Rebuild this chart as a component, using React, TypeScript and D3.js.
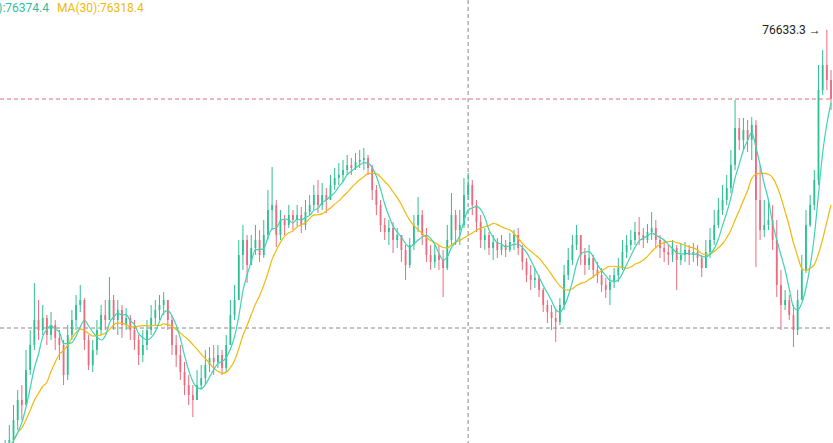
import React from "react";
import * as d3 from "d3";

const W = 833;
const H = 443;

const firstOpen = 76203;
const closes = [
  76208, 76215, 76223, 76243, 76263, 76258, 76293, 76318, 76343, 76333,
  76345, 76328, 76338, 76325, 76318, 76288, 76328, 76343, 76358, 76363,
  76323, 76298, 76313, 76333, 76348, 76343, 76363, 76343, 76353, 76338,
  76345, 76333, 76323, 76308, 76318, 76333, 76345, 76353, 76358, 76363,
  76343, 76318, 76308, 76291, 76278, 76268, 76263, 76278, 76285, 76298,
  76305, 76301, 76308, 76295, 76318, 76348, 76363, 76408, 76423, 76398,
  76415, 76423, 76408, 76428, 76453, 76458, 76428, 76443, 76438, 76448,
  76443, 76448, 76438, 76451, 76458, 76468, 76458, 76468, 76463, 76478,
  76485, 76488, 76493, 76498, 76495, 76501, 76503, 76505, 76495, 76473,
  76458, 76438, 76431, 76435, 76423, 76428, 76413, 76398, 76418, 76438,
  76448, 76428, 76408, 76401, 76408, 76403, 76395, 76423, 76448, 76433,
  76438, 76468, 76478, 76458, 76441, 76423, 76428, 76415, 76421, 76413,
  76418, 76413, 76421, 76428, 76415, 76401, 76388, 76383, 76385, 76373,
  76358, 76351, 76345, 76341, 76358, 76388, 76403, 76418, 76428, 76408,
  76398, 76405, 76393, 76388, 76378, 76373, 76381, 76388, 76395, 76411,
  76418, 76423, 76431, 76428, 76423, 76431, 76435, 76423, 76415, 76411,
  76408, 76415, 76403, 76408, 76413, 76408, 76411, 76405, 76395, 76411,
  76423, 76438, 76453, 76463, 76475, 76498, 76535, 76523, 76533, 76523,
  76538, 76463, 76433, 76438, 76443, 76423, 76378, 76358, 76363, 76348,
  76333, 76363, 76393, 76438, 76458, 76483, 76573, 76598, 76583, 76564,
];
const highs = [
  76218, 76223, 76238, 76258, 76273, 76278, 76313, 76333, 76380, 76363,
  76358, 76348, 76351, 76343, 76333, 76323, 76338, 76353, 76368, 76378,
  76365, 76328, 76323, 76343, 76358, 76363, 76386, 76368, 76363, 76358,
  76355, 76348, 76343, 76328, 76333, 76343, 76358, 76363, 76368, 76371,
  76363, 76348, 76328, 76318, 76301, 76288, 76278, 76293, 76298, 76313,
  76316, 76318, 76318, 76313, 76328, 76363, 76378, 76423, 76438, 76428,
  76428, 76438, 76433, 76443, 76473, 76496, 76463, 76453, 76448, 76458,
  76453, 76458, 76456, 76463, 76468, 76478, 76483, 76480, 76475, 76488,
  76495, 76500, 76503, 76508, 76505, 76510, 76513, 76515, 76508, 76498,
  76478, 76463, 76445, 76443, 76441, 76435, 76428, 76418, 76425, 76448,
  76466, 76453, 76435, 76418, 76418, 76418, 76413, 76438, 76470, 76453,
  76453, 76485, 76490, 76483, 76463, 76448, 76435, 76431, 76428, 76425,
  76428, 76423, 76430, 76433, 76435, 76418, 76405, 76398, 76395, 76388,
  76375, 76363, 76358, 76353, 76365, 76398, 76415, 76428, 76438, 76425,
  76415, 76418, 76408, 76401, 76395, 76385, 76388, 76395, 76405, 76423,
  76428, 76433, 76441, 76446, 76435, 76439, 76451, 76443, 76428, 76423,
  76418, 76423, 76418, 76420, 76421, 76418, 76420, 76418, 76408, 76423,
  76435, 76453, 76465, 76478, 76488, 76513, 76563, 76545, 76545, 76543,
  76546, 76543, 76498, 76463, 76463, 76458, 76443, 76393, 76373, 76368,
  76358, 76373, 76408, 76453, 76468, 76493, 76598, 76613, 76633.3, 76593,
];
const lows = [
  76198, 76203, 76211, 76218, 76233, 76243, 76258, 76288, 76313, 76323,
  76328, 76318, 76323, 76313, 76303, 76278, 76283, 76323, 76333, 76351,
  76313, 76293, 76291, 76308, 76328, 76333, 76343, 76333, 76328, 76325,
  76333, 76323, 76313, 76298, 76301, 76313, 76328, 76338, 76343, 76348,
  76333, 76308, 76296, 76283, 76268, 76258, 76246, 76263, 76273, 76278,
  76291, 76288, 76295, 76288, 76291, 76318, 76343, 76363, 76393, 76380,
  76398, 76408, 76401, 76405, 76423, 76433, 76416, 76423, 76428, 76435,
  76433, 76437, 76430, 76433, 76448, 76453, 76450, 76453, 76450, 76463,
  76473, 76478, 76481, 76488, 76488, 76493, 76495, 76493, 76488, 76463,
  76448, 76431, 76423, 76418, 76410, 76415, 76401, 76383, 76395, 76413,
  76431, 76418, 76401, 76393, 76395, 76393, 76366, 76393, 76418, 76418,
  76418, 76435, 76463, 76448, 76431, 76415, 76413, 76408, 76403, 76405,
  76408, 76406, 76411, 76413, 76408, 76393, 76381, 76373, 76375, 76366,
  76351, 76340, 76333, 76321, 76338, 76353, 76383, 76398, 76413, 76398,
  76388, 76393, 76385, 76380, 76371, 76365, 76358, 76375, 76381, 76393,
  76405, 76413, 76418, 76418, 76415, 76420, 76423, 76415, 76405, 76401,
  76398, 76401, 76373, 76398, 76401, 76398, 76401, 76397, 76386, 76398,
  76405, 76418, 76435, 76448, 76458, 76470, 76493, 76513, 76513, 76511,
  76503, 76396, 76423, 76426, 76433, 76413, 76366, 76333, 76353, 76343,
  76316, 76328, 76363, 76390, 76436, 76453, 76478, 76568, 76573, 76553,
];

const legendTexts = ["MA(7):76374.4", "MA(30):76318.4"];
const crosshairIndex = 112;
const crosshairPrice = 76335;
const shortPeriod = 5;
const longPeriod = 12;

const UP = "#2fbf93";
const DOWN = "#ec6b7e";
const TEAL = "#3fd3b3";
const YELLOW = "#f0b90b";

function sma(values: number[], period: number): number[] {
  return values.map((_, i) => {
    const s = Math.max(0, i - period + 1);
    return d3.mean(values.slice(s, i + 1)) as number;
  });
}

export default function App() {
  const n = closes.length;
  const opens = closes.map((c, i) => (i === 0 ? firstOpen : closes[i - 1]));
  const x = d3.scaleLinear().domain([0, n - 1]).range([1, 831]);
  const y = d3.scaleLinear().domain([76220, 76663]).range([H, 0]);

  const maShort = sma(closes, shortPeriod);
  const maLong = sma(closes, longPeriod);

  const line = d3
    .line<number>()
    .x((_, i) => x(i))
    .y((d) => y(d))
    .curve(d3.curveMonotoneX);

  const maxIdx = d3.maxIndex(highs);
  const maxVal = highs[maxIdx];

  const font = "Roboto, Arial, sans-serif";

  return (
    <div style={{ position: "fixed", left: 0, top: 0 }}>
      <svg width={W} height={H} style={{ display: "block", background: "#fff" }}>
        <line x1={x(crosshairIndex)} x2={x(crosshairIndex)} y1={0} y2={H}
          stroke="#888" strokeWidth={1} strokeDasharray="4 3" />
        <line x1={0} x2={W} y1={y(crosshairPrice)} y2={y(crosshairPrice)}
          stroke="#888" strokeWidth={1} strokeDasharray="4 3" />
        <line x1={0} x2={W} y1={y(closes[n - 1])} y2={y(closes[n - 1])}
          stroke="#d9727a" strokeWidth={1} strokeDasharray="4 3" />

        {closes.map((c, i) => {
          const o = opens[i];
          const col = c >= o ? UP : DOWN;
          const top = Math.max(highs[i], o, c);
          const bot = Math.min(lows[i], o, c);
          const by0 = y(Math.max(o, c));
          const by1 = y(Math.min(o, c));
          const cx = x(i);
          return (
            <g key={i}>
              <line x1={cx} x2={cx} y1={y(top)} y2={y(bot)} stroke={col} strokeWidth={1} />
              <rect x={cx - 0.9} y={by0} width={1.8} height={Math.max(1, by1 - by0)} fill={col} />
            </g>
          );
        })}

        <path d={line(maLong) || ""} fill="none" stroke={YELLOW} strokeWidth={1.2} />
        <path d={line(maShort) || ""} fill="none" stroke={TEAL} strokeWidth={1.2} />

        <text x={x(maxIdx) - 6} y={y(maxVal) + 4} textAnchor="end" fontFamily={font}
          fontSize={12} fill="#222">{`${maxVal.toFixed(1)} →`}</text>

        <text x={49} y={12} textAnchor="end" fontFamily={font} fontSize={12} fill="#2fbf9f">
          {legendTexts[0]}
        </text>
        <text x={57} y={12} fontFamily={font} fontSize={12} fill={YELLOW}>
          {legendTexts[1]}
        </text>
      </svg>
    </div>
  );
}
